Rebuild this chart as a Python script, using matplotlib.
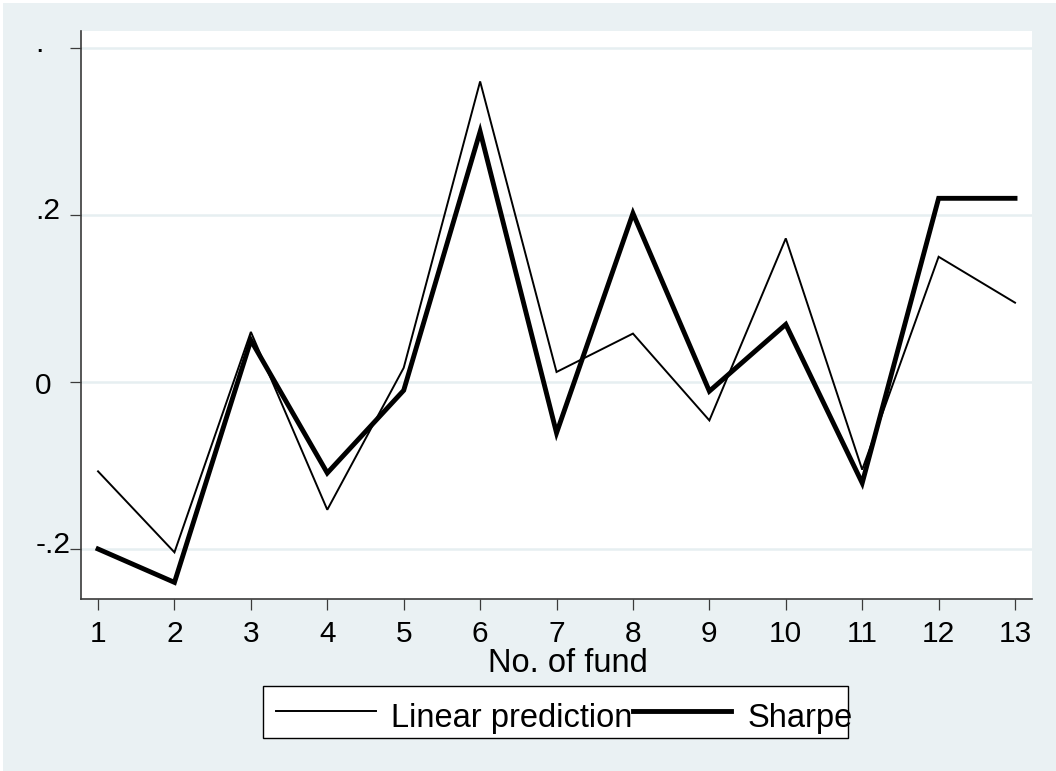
#!/usr/bin/env python3
"""Stata-style line plot: linear prediction vs Sharpe by fund number."""
import matplotlib
matplotlib.use("Agg")
import matplotlib.pyplot as plt
from matplotlib.lines import Line2D
from matplotlib.patches import Rectangle
from matplotlib.transforms import ScaledTranslation

plt.rcParams["font.family"] = ["Liberation Sans", "DejaVu Sans"]

fund_no = [1, 2, 3, 4, 5, 6, 7, 8, 9, 10, 11, 12, 13]
linear_prediction = [-0.107, -0.204, 0.060, -0.153, 0.017, 0.360, 0.012,
                     0.058, -0.046, 0.172, -0.105, 0.150, 0.095]
sharpe = [-0.200, -0.240, 0.050, -0.109, -0.010, 0.300, -0.061,
          0.202, -0.011, 0.069, -0.121, 0.220, 0.220]
y_ticks = [0.4, 0.2, 0.0, -0.2]
y_labels = [".", ".2", "0", "-.2"]
series_labels = ["Linear prediction", "Sharpe"]
x_title = "No. of fund"

BG = "#eaf1f3"
GRID = "#e6eff1"
W, H = 1056, 771
FS = 21.5      # tick labels
FS_BIG = 23.5  # axis title and legend
THIN, THICK = 1.4, 3.5


def fx(px):
    return px / W


def fy(py):
    return (H - py) / H


fig = plt.figure(figsize=(W / 100, H / 100), dpi=100)
fig.patch.set_facecolor("white")
fig.add_artist(Rectangle((fx(3), 0), 1, fy(3), transform=fig.transFigure,
                         facecolor=BG, edgecolor="none", zorder=-10))

ax = fig.add_axes([fx(81), fy(599), fx(1032) - fx(81), fy(31) - fy(599)])
ax.set_facecolor("white")
ax.plot(fund_no, linear_prediction, color="black", linewidth=THIN,
        solid_joinstyle="miter", zorder=3)
ax.plot(fund_no, sharpe, color="black", linewidth=THICK,
        solid_joinstyle="miter", zorder=3)

ax.set_xlim(0.777, 13.222)
ax.set_ylim(-0.2599, 0.4204)
ax.set_xticks(fund_no)
ax.set_xticklabels([str(v) for v in fund_no], fontsize=FS)
ax.set_yticks(y_ticks)
ax.set_yticklabels(y_labels, fontsize=FS)
ax.grid(axis="y", color=GRID, linewidth=1.8)
ax.set_axisbelow(True)

for side in ("top", "right"):
    ax.spines[side].set_visible(False)
for side in ("left", "bottom"):
    ax.spines[side].set_color("#3a3a3a")
    ax.spines[side].set_linewidth(1.2)

ax.tick_params(axis="x", length=8, width=0.9, color="#3a3a3a", pad=7)
ax.tick_params(axis="y", length=8, width=0.9, color="#3a3a3a", pad=25)
down = ScaledTranslation(0, -3 / 72, fig.dpi_scale_trans)
for lab in ax.get_yticklabels():
    lab.set_horizontalalignment("left")
    if lab.get_text() == "0":
        lab.set_verticalalignment("center")
        lab.set_transform(lab.get_transform() + ScaledTranslation(0, -3 / 72, fig.dpi_scale_trans))
    else:
        lab.set_verticalalignment("baseline")
        lab.set_transform(lab.get_transform() + down)

fig.text(fx(568), fy(672), x_title, ha="center", va="baseline", fontsize=FS_BIG)

# legend drawn Stata-style below the axis title
fig.add_artist(Rectangle((fx(263), fy(738)), fx(848) - fx(263), fy(686) - fy(738),
                         transform=fig.transFigure, facecolor="white",
                         edgecolor="black", linewidth=1.0))
fig.add_artist(Line2D([fx(276), fx(376)], [fy(711), fy(711)],
                      transform=fig.transFigure, color="black", linewidth=THIN))
fig.add_artist(Line2D([fx(633), fx(731)], [fy(711), fy(711)],
                      transform=fig.transFigure, color="black", linewidth=THICK))
fig.text(fx(391), fy(727), series_labels[0], ha="left", va="baseline", fontsize=FS_BIG)
fig.text(fx(748), fy(727), series_labels[1], ha="left", va="baseline", fontsize=FS_BIG)

fig.savefig("out.png", dpi=100, facecolor=fig.get_facecolor())
